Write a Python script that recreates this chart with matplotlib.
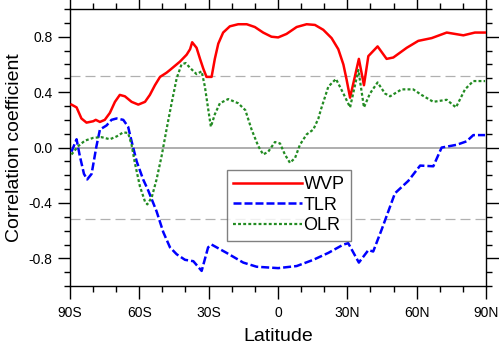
import matplotlib
matplotlib.use("Agg")
import matplotlib.pyplot as plt
from matplotlib.ticker import MultipleLocator

plt.rcParams['font.family'] = ['Liberation Sans', 'DejaVu Sans']

wvp_lat = [-89.3, -87.1, -85.0, -82.8, -79.9, -78.8, -77.0, -74.9, -72.7, -70.5, -68.4, -66.2, -63.3,
           -60.4, -57.5, -55.4, -53.2, -51.0, -48.2, -46.7, -42.4, -39.5, -38.0, -37.1, -35.2, -33.7,
           -32.3, -30.9, -28.7, -27.3, -25.8, -23.7, -20.8, -17.2, -13.5, -10.0, -6.4, -2.8, 0.1, 3.7,
           8.1, 12.4, 16.0, 19.6, 23.2, 26.1, 28.3, 29.7, 31.2, 35.0, 37.2, 39.1,
           43.1, 47.0, 49.9, 55.7, 60.7, 66.5, 73.0, 80.2, 85.2, 89.6]
wvp_val = [0.31, 0.29, 0.21, 0.18, 0.19, 0.20, 0.185, 0.20, 0.25, 0.33, 0.38, 0.37, 0.33,
           0.31, 0.33, 0.38, 0.45, 0.51, 0.54, 0.56, 0.62, 0.67, 0.71, 0.76, 0.72, 0.64,
           0.57, 0.51, 0.51, 0.64, 0.75, 0.83, 0.875, 0.89, 0.89, 0.87, 0.83, 0.80, 0.795, 0.82,
           0.87, 0.89, 0.885, 0.85, 0.79, 0.71, 0.60, 0.49, 0.36, 0.64, 0.45, 0.66,
           0.73, 0.64, 0.65, 0.72, 0.77, 0.79, 0.83, 0.81, 0.83, 0.83]

tlr_lat = [-89.3, -87.1, -85.7, -83.9, -82.5, -80.6, -78.5, -77.0, -74.1, -72.0, -69.8, -66.9, -64.8,
           -63.3, -61.1, -58.3, -56.1, -52.5, -49.6, -46.7, -43.8, -40.2, -36.6, -33.0, -30.2, -28.7,
           -22.2, -15.0, -9.2, 0.1, 8.1, 15.3, 21.8, 28.3, 30.4, 35.0, 39.1, 41.2, 44.9, 50.6, 56.4,
           61.5, 67.2, 70.8, 77.3, 81.6, 84.5, 89.6]
tlr_val = [-0.03, 0.06, -0.06, -0.19, -0.23, -0.19, 0.01, 0.13, 0.16, 0.20, 0.21, 0.20, 0.15,
           0.045, -0.10, -0.23, -0.31, -0.46, -0.61, -0.72, -0.77, -0.81, -0.82, -0.89, -0.72, -0.70,
           -0.76, -0.83, -0.86, -0.87, -0.855, -0.81, -0.76, -0.70, -0.69, -0.83, -0.74, -0.75, -0.59, -0.33, -0.24,
           -0.13, -0.135, 0.0, 0.02, 0.045, 0.09, 0.09]

olr_lat = [-89.3, -86.4, -83.5, -79.9, -76.3, -72.7, -69.8, -66.9, -64.8, -63.3, -61.9, -59.7, -57.5,
           -56.5, -54.6, -52.5, -50.3, -48.2, -46.0, -43.8, -41.7, -39.9, -38.0, -35.2, -33.0, -31.6,
           -30.1, -29.0, -27.3, -25.1, -21.5, -17.2, -14.1, -11.4, -8.5, -6.4, -4.2, -1.3, 0.9, 3.0,
           5.2, 7.4, 9.5, 12.4, 15.3, 17.5, 18.5, 21.8, 25.1, 28.3, 31.2,
           34.8, 37.2, 39.8, 43.1, 46.3, 48.5, 53.5, 58.5, 62.1, 67.2, 73.0, 77.0, 80.9, 84.5, 89.6]
olr_val = [-0.05, 0.01, 0.05, 0.07, 0.075, 0.06, 0.08, 0.11, 0.105, 0.02, -0.11, -0.28, -0.39,
           -0.41, -0.36, -0.23, -0.06, 0.13, 0.32, 0.50, 0.60, 0.61, 0.575, 0.53, 0.55, 0.44,
           0.27, 0.15, 0.24, 0.32, 0.35, 0.32, 0.27, 0.13, 0.01, -0.05, -0.03, 0.04, 0.03, -0.05,
           -0.11, -0.075, 0.02, 0.095, 0.13, 0.21, 0.27, 0.44, 0.495, 0.39, 0.29,
           0.56, 0.29, 0.39, 0.47, 0.39, 0.37, 0.42, 0.42, 0.38, 0.33, 0.345, 0.29, 0.42, 0.48, 0.48]

sig_level = 0.515
xticks = [-90, -60, -30, 0, 30, 60, 90]
xticklabels = ['90S', '60S', '30S', '0', '30N', '60N', '90N']
yticks = [-0.8, -0.4, 0.0, 0.4, 0.8]
yticklabels = ['-0.8', '-0.4', '0.0', '0.4', '0.8']

fig = plt.figure(figsize=(4.99, 3.46), dpi=100)
ax = fig.add_axes([0.140, 0.173, 0.834, 0.801])

ax.axhline(0, color='#a8a8a8', lw=1.3, zorder=1)
ax.axhline(sig_level, color='#b0b0b0', lw=0.9, ls=(0, (8, 4)), zorder=1)
ax.axhline(-sig_level, color='#b0b0b0', lw=0.9, ls=(0, (8, 4)), zorder=1)

ax.plot(wvp_lat, wvp_val, color='#ff0000', lw=1.8, label='WVP', zorder=3)
ax.plot(tlr_lat, tlr_val, color='#0000ff', lw=1.8, ls=(0, (3.2, 1.2)), label='TLR', zorder=3)
ax.plot(olr_lat, olr_val, color='#228b22', lw=1.6, ls=(0, (1.3, 1.0)), label='OLR', zorder=3)

ax.set_xlim(-90, 90)
ax.set_ylim(-1, 1)
ax.set_xticks(xticks)
ax.set_xticklabels(xticklabels)
ax.set_yticks(yticks)
ax.set_yticklabels(yticklabels)
ax.xaxis.set_minor_locator(MultipleLocator(10))
ax.yaxis.set_minor_locator(MultipleLocator(0.1))
ax.tick_params(which='both', direction='out', top=True, right=True, labelsize=10, width=1)
ax.tick_params(which='major', length=9)
ax.tick_params(which='minor', length=4.5)
ax.tick_params(axis='x', pad=5)
for s in ax.spines.values():
    s.set_linewidth(1)

ax.set_xlabel('Latitude', fontsize=14, labelpad=6)
ax.set_ylabel('Correlation coefficient', fontsize=14, labelpad=4)

leg = ax.legend(loc='upper left', bbox_to_anchor=(0.377, 0.42), fontsize=13, frameon=True,
                fancybox=False, edgecolor='#606060', handlelength=3.8, handletextpad=0.1,
                borderpad=0.35, labelspacing=0.2, borderaxespad=0)
leg.get_frame().set_linewidth(1)

fig.savefig('out.png', dpi=100)
